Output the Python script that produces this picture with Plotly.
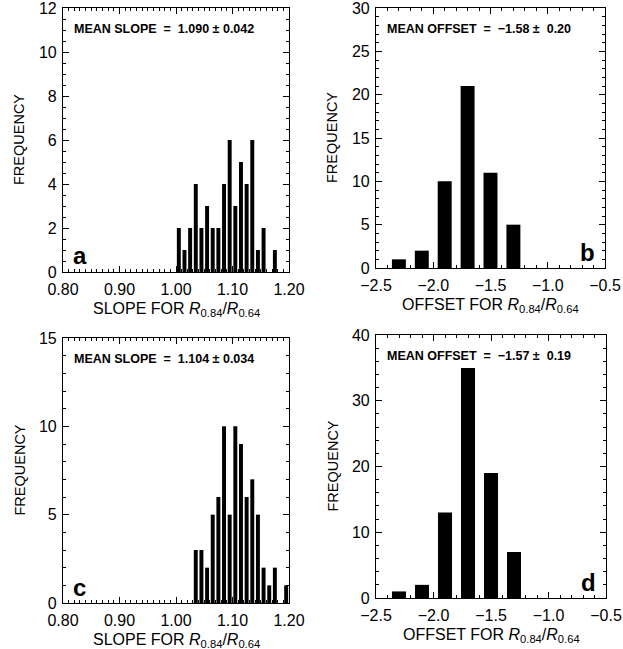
import plotly.graph_objects as go

# ---- data ----
slope_a_centers = [1.005, 1.015, 1.025, 1.035, 1.045, 1.055, 1.065, 1.075, 1.085,
                   1.095, 1.105, 1.115, 1.125, 1.135, 1.145, 1.155, 1.165, 1.175]
slope_a_counts = [2, 1, 2, 4, 2, 3, 2, 2, 4, 6, 3, 5, 4, 6, 1, 2, 0, 1]

offset_b_centers = [-2.3, -2.1, -1.9, -1.7, -1.5, -1.3]
offset_b_counts = [1, 2, 10, 21, 11, 5]

slope_c_centers = [1.035, 1.045, 1.055, 1.065, 1.075, 1.085, 1.095, 1.105, 1.115,
                   1.125, 1.135, 1.145, 1.155, 1.165, 1.175, 1.185, 1.195]
slope_c_counts = [3, 3, 2, 5, 6, 10, 5, 10, 9, 6, 7, 5, 2, 1, 2, 0, 1]

offset_d_centers = [-2.3, -2.1, -1.9, -1.7, -1.5, -1.3]
offset_d_counts = [1, 2, 13, 35, 19, 7]

slope_ticks = [0.80, 0.90, 1.00, 1.10, 1.20]
slope_ticklabels = ["0.80", "0.90", "1.00", "1.10", "1.20"]
offset_ticks = [-2.5, -2.0, -1.5, -1.0, -0.5]
offset_ticklabels = ["\u22122.5", "\u22122.0", "\u22121.5", "\u22121.0", "\u22120.5"]

texts = ["MEAN SLOPE  =  1.090 \u00b1 0.042", "MEAN OFFSET  =  \u22121.58 \u00b1  0.20",
         "MEAN SLOPE  =  1.104 \u00b1 0.034", "MEAN OFFSET  =  \u22121.57 \u00b1  0.19"]
letters = ["a", "b", "c", "d"]

W, H = 623, 649
FONT = "Liberation Sans, Arial, Helvetica, sans-serif"

# panel boxes in pixels: (left, right, top, bottom)
boxes = [(63, 289, 8, 272), (376, 605, 8, 268), (63, 289, 338, 603), (376, 606, 335, 598)]
title_offsets = [38, 37, 37, 37]

fig = go.Figure()

panels = [
    (slope_a_centers, slope_a_counts, 0.007, [0.80, 1.20], slope_ticks, slope_ticklabels, 0.01, [0, 12], 2, 0.5),
    (offset_b_centers, offset_b_counts, 0.122, [-2.5, -0.5], offset_ticks, offset_ticklabels, 0.1, [0, 30], 5, 1),
    (slope_c_centers, slope_c_counts, 0.007, [0.80, 1.20], slope_ticks, slope_ticklabels, 0.01, [0, 15], 5, 1),
    (offset_d_centers, offset_d_counts, 0.122, [-2.5, -0.5], offset_ticks, offset_ticklabels, 0.1, [0, 40], 10, 2),
]

layout = dict(
    width=W, height=H, margin=dict(l=0, r=0, t=0, b=0),
    paper_bgcolor="white", plot_bgcolor="white", showlegend=False,
    font=dict(family=FONT, color="black"),
)

annotations = []
for i, (xc, yc, bw, xr, xt, xtl, xminor, yr, ydt, yminor) in enumerate(panels):
    n = "" if i == 0 else str(i + 1)
    xa, ya = "x" + n, "y" + n
    fig.add_trace(go.Bar(x=xc, y=yc, width=bw, marker=dict(color="black", line=dict(width=0)),
                         xaxis=xa, yaxis=ya))
    L, R, T, B = boxes[i]
    common = dict(showline=True, linecolor="black", linewidth=1.2, mirror="ticks",
                  ticks="inside", ticklen=6, tickwidth=1, tickcolor="black",
                  showgrid=False, zeroline=False, automargin=False,
                  ticklabeloverflow="allow",
                  tickfont=dict(size=16, family=FONT, color="black"))
    layout["xaxis" + n] = dict(domain=[L / W, R / W], range=xr, tickvals=xt, ticktext=xtl,
                               anchor=ya, ticklabelstandoff=3,
                               minor=dict(dtick=xminor, ticks="inside", ticklen=3, tickcolor="black", showgrid=False),
                               **common)
    layout["yaxis" + n] = dict(domain=[1 - B / H, 1 - T / H], range=yr, dtick=ydt, tick0=0,
                               anchor=xa, ticklabelstandoff=2,
                               minor=dict(dtick=yminor, ticks="inside", ticklen=3, tickcolor="black", showgrid=False),
                               **common)
    # stats text
    annotations.append(dict(xref="paper", yref="paper", x=(L + 9) / W, y=1 - (T + 21) / H,
                            xanchor="left", yanchor="middle", showarrow=False,
                            text="<b>" + texts[i] + "</b>", font=dict(size=12.5, family=FONT)))
    # panel letter
    lx = (L + 8) / W if i in (0, 2) else (R - 8) / W
    annotations.append(dict(xref="paper", yref="paper", x=lx, y=1 - (B - 16) / H,
                            xanchor="left" if i in (0, 2) else "right", yanchor="middle",
                            showarrow=False, text="<b>" + letters[i] + "</b>",
                            font=dict(size=24, family=FONT)))
    # y title
    annotations.append(dict(xref="paper", yref="paper", x=(L - 44) / W, y=1 - ((T + B) / 2) / H,
                            xanchor="center", yanchor="middle", showarrow=False, textangle=-90,
                            text="FREQUENCY", font=dict(size=14.5, family=FONT)))
    # x title
    kind = "SLOPE" if i in (0, 2) else "OFFSET"
    annotations.append(dict(xref="paper", yref="paper", x=((L + R) / 2) / W, y=1 - (B + title_offsets[i]) / H,
                            xanchor="center", yanchor="middle", showarrow=False,
                            text=kind + " FOR <i>R</i><sub>0.84</sub>/<i>R</i><sub>0.64</sub>",
                            font=dict(size=16, family=FONT)))

layout["annotations"] = annotations
fig.update_layout(**layout)
fig.write_html("out.html")
